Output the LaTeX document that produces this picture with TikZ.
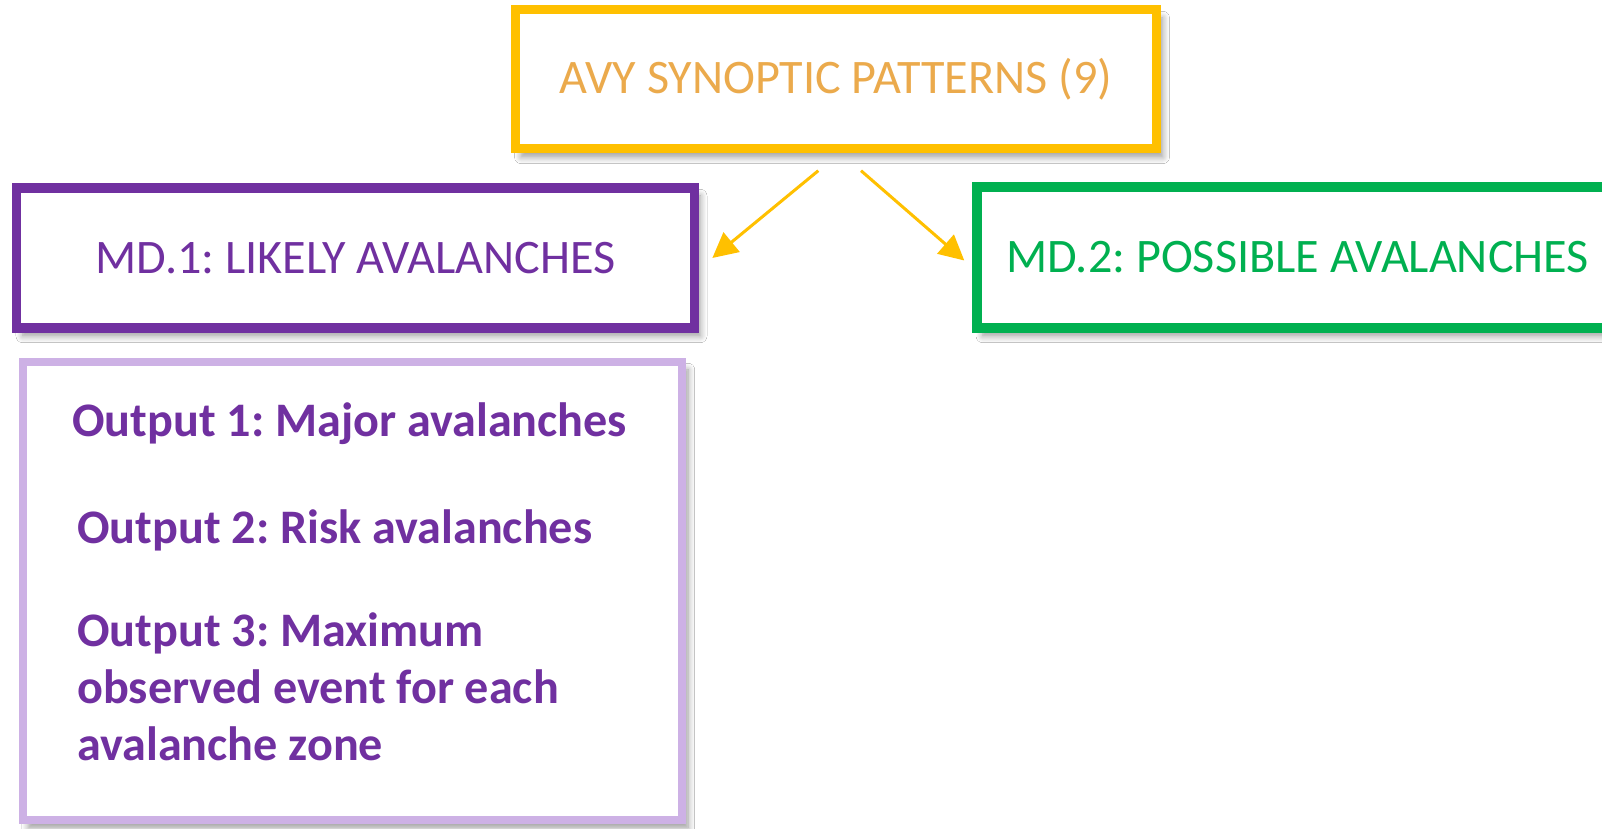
\documentclass[tikz,border=0pt]{standalone}
\usepackage{fontspec}
\setmainfont{Carlito}
\usepackage{xcolor}
\usetikzlibrary{arrows.meta,calc,shadows.blur}
\definecolor{avyyellow}{HTML}{FFC000}
\definecolor{avyorange}{HTML}{EBAA4C}
\definecolor{mdpurple}{HTML}{7030A0}
\definecolor{mdgreen}{HTML}{00B050}
\definecolor{outlilac}{HTML}{CDB1E5}
\frenchspacing
\tikzset{
	panel/.style={
			rectangle, draw=#1, fill=white, line width=0.09cm,
			font=\fontsize{13.7}{16.2}\selectfont,
			blur shadow={shadow xshift=0.06cm, shadow yshift=-0.08cm,
					shadow blur steps=8, shadow opacity=40}
		},
	flow/.style={draw=avyyellow, line width=0.03cm,
			-{Triangle[length=0.25cm,width=0.25cm]}, avyyellow},
	outtext/.style={anchor=west, inner sep=0pt, align=flush left, text=mdpurple,
			font=\fontsize{13.7}{16.2}\selectfont\bfseries}
}

\begin{document}
\begin{tikzpicture}
        \useasboundingbox (0, 0) rectangle (16.02, 8.29);
        \clip (0, 0) rectangle (16.02, 8.29);
        \fill[white] (0, 0) rectangle (16.02, 8.29);

        \node[panel=avyyellow, minimum width=6.415cm, minimum height=1.39cm, text=avyorange] (top) at (8.36, 7.495) {AVY SYNOPTIC PATTERNS (9)};

        \node[panel=mdpurple, line width=0.095cm, minimum width=6.776cm, minimum height=1.40cm, text=mdpurple] (md1) at (3.555, 5.71) {MD.1: LIKELY AVALANCHES};
        % runs past the right edge of the page
        \node[panel=mdgreen, line width=0.095cm, overlay, minimum height=1.41cm, text width=6.3cm, inner xsep=0.295cm, align=flush left, text=mdgreen, anchor=west] (md2) at (9.72, 5.715) {MD.2: POSSIBLE AVALANCHES};

        \node[panel=outlilac, line width=0.08cm, minimum width=6.595cm, minimum height=4.58cm] (out) at (3.5225, 2.38) {};

        \node[outtext] (o1) at (0.715, 4.05) {Output 1: Major avalanches};
        \node[outtext] (o2) at (0.766, 2.99) {Output 2: Risk avalanches};
        \node[outtext] (o3) at (0.766, 1.42) {Output 3: Maximum\\observed event for each\\avalanche zone};

        \coordinate (fromL) at ($(top.south)+(-0.177, -0.172)$);
        \coordinate (fromR) at ($(top.south)+(0.25, -0.172)$);

        \draw[flow] (fromL) -- ([xshift=0.133cm]md1.east);
        \draw[flow] (fromR) -- ([xshift=-0.077cm, yshift=-0.03cm]md2.west);
    \end{tikzpicture}
\end{document}
